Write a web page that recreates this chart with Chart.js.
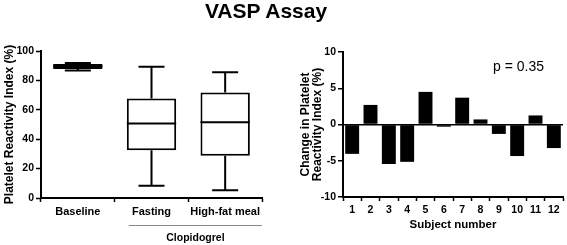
<!DOCTYPE html>
<html>
<head>
<meta charset="utf-8">
<script src="https://cdn.jsdelivr.net/npm/chart.js@4.4.1/dist/chart.umd.min.js"></script>
<style>
  body { margin: 0; background: #fff; }
  #wrap { position: relative; width: 567px; height: 245px; font-family: "Liberation Sans", Arial, sans-serif; color: #000; }
  #title { position: absolute; left: 0; top: -1px; width: 532px; text-align: center; font-weight: bold; font-size: 21px; line-height: 24px; }
  #pval { position: absolute; left: 493px; top: 58px; font-size: 14px; line-height: 16px; }
  #boxChart { position: absolute; left: 0; top: 0; }
  #barChart { position: absolute; left: 285px; top: 0; }
</style>
</head>
<body>
<div id="wrap">
  <canvas id="boxChart" width="275" height="245"></canvas>
  <canvas id="barChart" width="282" height="245"></canvas>
  <div id="title">VASP Assay</div>
  <div id="pval">p = 0.35</div>
</div>
<script>
// Left panel: box plots
const groups = ["Baseline", "Fasting", "High-fat meal"];
const whiskerMin = [86.7, 8.3, 5.3];
const quart1 = [87.8, 32.5, 28.7];
const medians = [89.6, 50.7, 51.6];
const quart3 = [91.2, 67.7, 71.8];
const whiskerMax = [91.8, 89.3, 85.5];
const leftTicks = [0, 20, 40, 60, 80, 100];

// Right panel: change per subject
const subjects = ["1", "2", "3", "4", "5", "6", "7", "8", "9", "10", "11", "12"];
const changes = [-4.05, 2.7, -5.45, -5.15, 4.5, -0.3, 3.7, 0.7, -1.3, -4.35, 1.25, -3.25];
const rightTicks = [-10, -5, 0, 5, 10];

Chart.defaults.font.family = '"Liberation Sans", Arial, sans-serif';
Chart.defaults.color = "#000";

const bold = size => ({ size: size, weight: "bold" });

// whiskers, caps, medians and the Clopidogrel bracket
const boxExtras = {
  id: "boxExtras",
  afterDatasetsDraw(chart) {
    const { ctx, scales: { x, y } } = chart;
    const bars = chart.getDatasetMeta(0).data;
    ctx.save();
    ctx.strokeStyle = "#000";
    ctx.lineWidth = 2;
    groups.forEach((g, i) => {
      const cx = x.getPixelForValue(i);
      const half = bars[i].width / 2;
      const cap = 13;
      const yMax = y.getPixelForValue(whiskerMax[i]);
      const yMin = y.getPixelForValue(whiskerMin[i]);
      const yMed = y.getPixelForValue(medians[i]);
      ctx.beginPath();
      ctx.moveTo(cx, y.getPixelForValue(quart3[i])); ctx.lineTo(cx, yMax);
      ctx.moveTo(cx, y.getPixelForValue(quart1[i])); ctx.lineTo(cx, yMin);
      ctx.moveTo(cx - cap, yMax); ctx.lineTo(cx + cap, yMax);
      ctx.moveTo(cx - cap, yMin); ctx.lineTo(cx + cap, yMin);
      ctx.moveTo(cx - half, yMed); ctx.lineTo(cx + half, yMed);
      ctx.stroke();
    });

    // bracket under the two clopidogrel groups
    const x0 = x.getPixelForValue(1) - bars[1].width / 2 + 2;
    const x1 = chart.chartArea.right;
    ctx.strokeStyle = "#888";
    ctx.lineWidth = 1;
    ctx.beginPath();
    ctx.moveTo(x0, 225.5); ctx.lineTo(x1, 225.5);
    ctx.stroke();
    ctx.fillStyle = "#000";
    ctx.font = 'bold 10.5px "Liberation Sans", Arial, sans-serif';
    ctx.textAlign = "center";
    ctx.textBaseline = "middle";
    ctx.fillText("Clopidogrel", (x0 + x1) / 2, 238);
    ctx.restore();
  }
};

new Chart(document.getElementById("boxChart"), {
  type: "bar",
  data: {
    labels: groups,
    datasets: [{
      data: groups.map((g, i) => [quart1[i], quart3[i]]),
      backgroundColor: "#fff",
      borderColor: "#000",
      borderWidth: 2,
      borderSkipped: false,
      barPercentage: 0.67,
      categoryPercentage: 1
    }]
  },
  options: {
    responsive: false,
    animation: false,
    layout: { padding: { top: 51, right: 13, left: 0, bottom: 0 } },
    plugins: { legend: { display: false }, tooltip: { enabled: false } },
    scales: {
      x: {
        offset: true,
        grid: { drawOnChartArea: false, tickLength: 4, tickWidth: 1.5, tickColor: "#000" },
        border: { color: "#000", width: 2 },
        ticks: { color: "#000", font: bold(11), padding: 3, maxRotation: 0, autoSkip: false },
        afterFit: s => { s.height = 47; }
      },
      y: {
        min: 0,
        max: 100,
        afterBuildTicks: s => { s.ticks = leftTicks.map(v => ({ value: v })); },
        grid: { drawOnChartArea: false, tickLength: 5, tickWidth: 1.5, tickColor: "#000" },
        border: { color: "#000", width: 2 },
        ticks: { color: "#000", font: bold(10.5), padding: 2 },
        title: {
          display: true,
          text: "Platelet Reactivity Index (%)",
          color: "#000",
          font: bold(12),
          padding: { top: 2, bottom: 0 }
        },
        afterFit: s => { s.width = 41; }
      }
    }
  },
  plugins: [boxExtras]
});

new Chart(document.getElementById("barChart"), {
  type: "bar",
  data: {
    labels: subjects,
    datasets: [{
      data: changes,
      backgroundColor: "#000",
      borderWidth: 0,
      barPercentage: 0.76,
      categoryPercentage: 1
    }]
  },
  options: {
    responsive: false,
    animation: false,
    layout: { padding: { top: 52, right: 4, left: 0, bottom: 0 } },
    plugins: { legend: { display: false }, tooltip: { enabled: false } },
    scales: {
      x: {
        offset: true,
        grid: { drawOnChartArea: false, tickLength: 4, tickWidth: 1.5, tickColor: "#000" },
        border: { color: "#000", width: 2 },
        ticks: { color: "#000", font: bold(10.5), padding: 3, maxRotation: 0, autoSkip: false },
        title: {
          display: true,
          text: "Subject number",
          color: "#000",
          font: bold(11.5),
          padding: { top: 0, bottom: 13 }
        },
        afterFit: s => { s.height = 48; }
      },
      y: {
        min: -10,
        max: 10,
        afterBuildTicks: s => { s.ticks = rightTicks.map(v => ({ value: v })); },
        grid: {
          color: c => (c.tick && c.tick.value === 0 ? "#000" : "rgba(0,0,0,0)"),
          lineWidth: 1.5,
          tickLength: 5,
          tickWidth: 1.5,
          tickColor: "#000"
        },
        border: { color: "#000", width: 2 },
        ticks: { color: "#000", font: bold(10.5), padding: 2 },
        title: {
          display: true,
          text: ["Change in Platelet", "Reactivity Index (%)"],
          color: "#000",
          font: { size: 12, weight: "bold", lineHeight: 1.0 },
          padding: { top: 15, bottom: 0 }
        },
        afterFit: s => { s.width = 58; }
      }
    }
  }
});
</script>
</body>
</html>
